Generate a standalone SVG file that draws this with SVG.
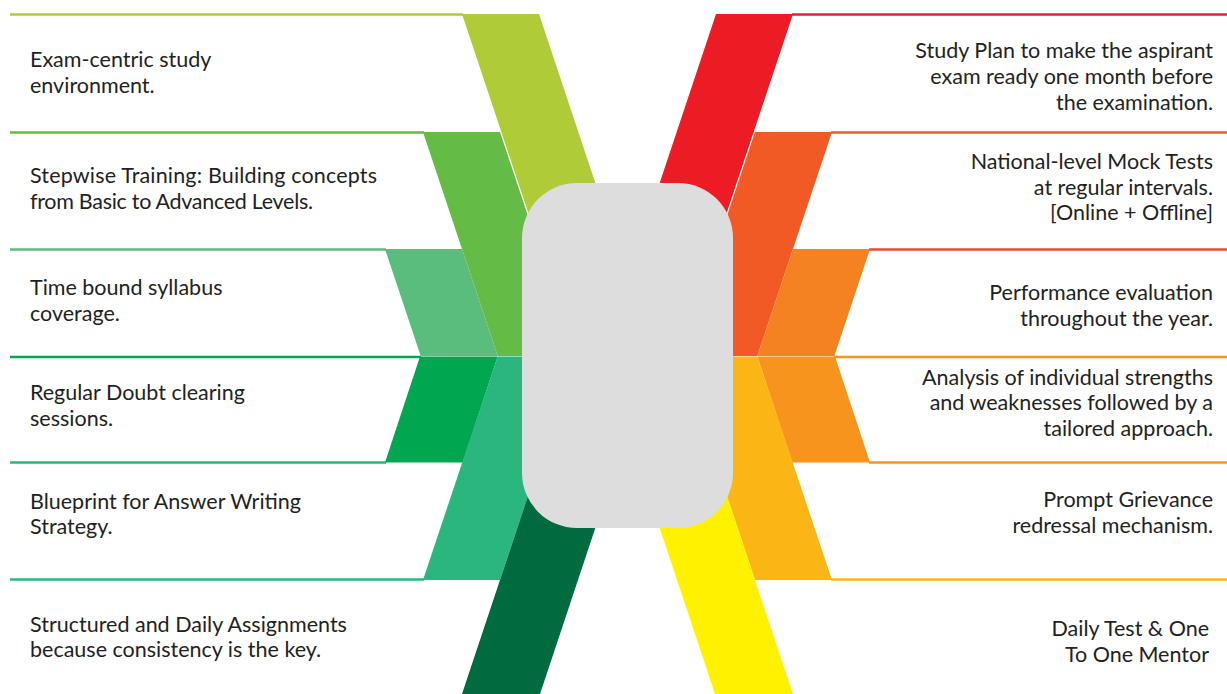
<svg xmlns="http://www.w3.org/2000/svg" width="1227" height="694" viewBox="0 0 1227 694">
<style>
  text { font-family: Lato, "Noto Sans", "Liberation Sans", sans-serif; font-size: 21.5px; fill: #1e2320; }
  .r { text-anchor: end; }
  .ln { stroke-width: 2.6; fill: none; }
</style>
<rect width="1227" height="694" fill="#ffffff"/>
<g id="connectors">
  <line class="ln" x1="10" y1="14.5" x2="463" y2="14.5" stroke="#afcb37"/>
  <line class="ln" x1="10" y1="132.5" x2="424" y2="132.5" stroke="#64bb46"/>
  <line class="ln" x1="10" y1="249.5" x2="386" y2="249.5" stroke="#5bbd7d"/>
  <line class="ln" x1="10" y1="357" x2="421" y2="357" stroke="#00a650"/>
  <line class="ln" x1="10" y1="462.5" x2="386" y2="462.5" stroke="#2ab67c"/>
  <line class="ln" x1="10" y1="579.5" x2="424" y2="579.5" stroke="#2ab67c"/>
  <line class="ln" x1="792" y1="14.5" x2="1227" y2="14.5" stroke="#e61b3d"/>
  <line class="ln" x1="831" y1="132.5" x2="1227" y2="132.5" stroke="#f15a24"/>
  <line class="ln" x1="869" y1="249.5" x2="1227" y2="249.5" stroke="#ee4a2a"/>
  <line class="ln" x1="834" y1="357" x2="1227" y2="357" stroke="#f7941d"/>
  <line class="ln" x1="869" y1="462.5" x2="1227" y2="462.5" stroke="#f7941d"/>
  <line class="ln" x1="831" y1="579.5" x2="1227" y2="579.5" stroke="#fbb615"/>
</g>
<g id="bands">
  <polygon fill="#5bbd7d" points="385,249 462,249 497.7,356 420.7,356"/>
  <polygon fill="#64bb46" points="423,132 500,132 574.7,356 497.7,356"/>
  <polygon fill="#afcb37" points="462,14 539,14 653,356 576,356"/>
  <polygon fill="#00a650" points="420,356.5 497.7,356.5 462.7,462.5 385,462.5"/>
  <polygon fill="#2ab67c" points="497.7,356.5 574.7,356.5 500,580 423,580"/>
  <polygon fill="#006b3f" points="574.3,357 652.3,357 540,694 462,694"/>
  <polygon fill="#f58220" points="870,249 793,249 757.3,356 834.3,356"/>
  <polygon fill="#f15a24" points="832,132 755,132 680.3,356 757.3,356"/>
  <polygon fill="#ed1c24" points="793,14 716,14 602,356 679,356"/>
  <polygon fill="#f7941d" points="835,356.5 757.3,356.5 792.3,462.5 870,462.5"/>
  <polygon fill="#fbb615" points="757.3,356.5 680.3,356.5 755,580 832,580"/>
  <polygon fill="#fff100" points="680.7,357 602.7,357 715,694 793,694"/>
</g>
<g id="center">
  <rect x="522" y="183" width="211" height="345" rx="55" ry="55" fill="#dddddd"/>
</g>
<g id="item-l1"><text x="30" y="67">Exam-centric study</text><text x="30" y="93">environment.</text></g>
<g id="item-l2"><text x="30" y="183" textLength="347" lengthAdjust="spacing">Stepwise Training: Building concepts</text><text x="30" y="208.5" textLength="283" lengthAdjust="spacing">from Basic to Advanced Levels.</text></g>
<g id="item-l3"><text x="30" y="294.5">Time bound syllabus</text><text x="30" y="320.5">coverage.</text></g>
<g id="item-l4"><text x="30" y="400">Regular Doubt clearing</text><text x="30" y="425.5">sessions.</text></g>
<g id="item-l5"><text x="30" y="509">Blueprint for Answer Writing</text><text x="30" y="534">Strategy.</text></g>
<g id="item-l6"><text x="30" y="631.5">Structured and Daily Assignments</text><text x="30" y="656.5">because consistency is the key.</text></g>
<g id="item-r1"><text class="r" x="1213" y="58">Study Plan to make the aspirant</text><text class="r" x="1213" y="84">exam ready one month before</text><text class="r" x="1213" y="109.5">the examination.</text></g>
<g id="item-r2"><text class="r" x="1213" y="168.5">National-level Mock Tests</text><text class="r" x="1213" y="194.5">at regular intervals.</text><text class="r" x="1213" y="220">[Online + Offline]</text></g>
<g id="item-r3"><text class="r" x="1213" y="300">Performance evaluation</text><text class="r" x="1213" y="325.5">throughout the year.</text></g>
<g id="item-r4"><text class="r" x="1213" y="384.5">Analysis of individual strengths</text><text class="r" x="1213" y="410">and weaknesses followed by a</text><text class="r" x="1213" y="435.5">tailored approach.</text></g>
<g id="item-r5"><text class="r" x="1213" y="506.5">Prompt Grievance</text><text class="r" x="1213" y="532.5">redressal mechanism.</text></g>
<g id="item-r6"><text class="r" x="1209" y="636">Daily Test &amp; One</text><text class="r" x="1209" y="661.5">To One Mentor</text></g>
</svg>
